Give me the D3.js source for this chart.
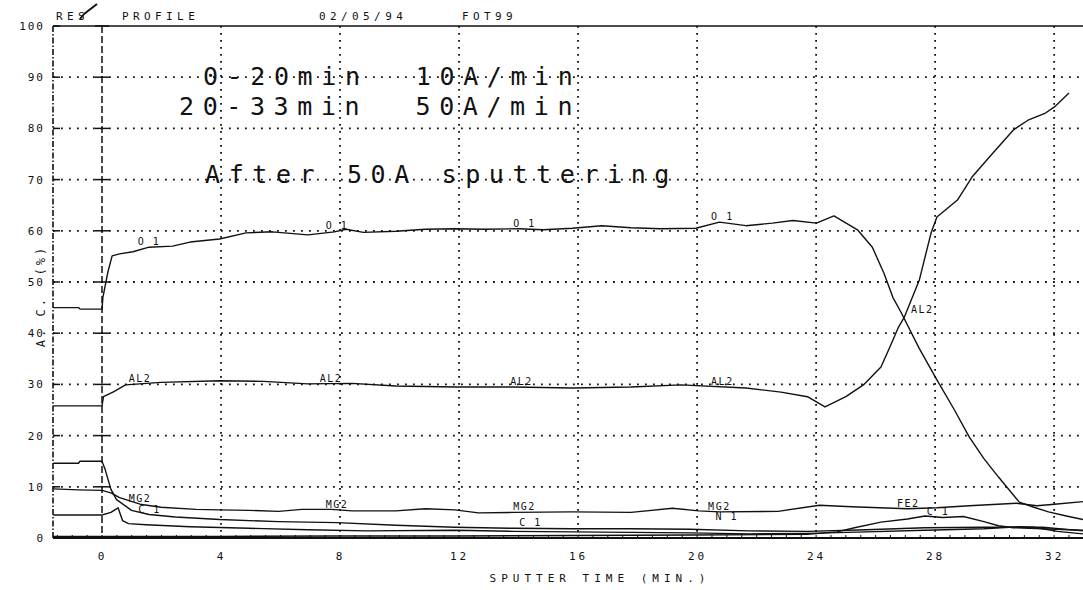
<!DOCTYPE html>
<html>
<head>
<meta charset="utf-8">
<script src="https://cdn.jsdelivr.net/npm/d3@7"></script>
<style>
  body { margin: 0; background: #fff; }
  svg { display: block; }
  text { font-family: "DejaVu Sans Mono", "Liberation Mono", monospace; fill: #111; }
</style>
</head>
<body>
<svg id="chart" width="1083" height="590"></svg>
<script>
// ---- Depth profile data: sputter time (min) vs atomic concentration (%) ----
const xTicks = [0, 4, 8, 12, 16, 20, 24, 28, 32];
const yTicks = [0, 10, 20, 30, 40, 50, 60, 70, 80, 90, 100];

const o1 = [[-1.64,45.0],[-0.79,45.0],[-0.74,44.7],[0,44.7],[0.03,47],[0.2,52],[0.34,55.1],[0.59,55.5],[1.04,55.9],[1.58,56.8],[2.37,57.0],[2.96,57.8],[3.95,58.4],[4.84,59.6],[5.73,59.8],[6.92,59.2],[7.81,59.8],[8.2,60.3],[8.79,59.7],[9.88,59.9],[10.87,60.3],[11.86,60.4],[12.84,60.3],[14.03,60.4],[14.82,60.2],[15.81,60.5],[16.8,61.0],[17.78,60.6],[18.77,60.4],[19.96,60.5],[20.75,61.7],[21.64,61.0],[22.53,61.5],[23.22,62.0],[24.01,61.5],[24.6,62.9],[25.39,60.2],[25.89,56.8],[26.28,51.7],[26.58,47.0],[26.87,43.9],[27.47,37.0],[28.06,30.9],[28.65,25.0],[29.15,19.7],[29.64,15.5],[30.13,11.9],[30.83,7.0],[31.32,6.0],[31.81,5.1],[32.41,4.3],[32.97,3.6]];

const al2 = [[-1.64,25.8],[0,25.8],[0.05,27.6],[0.4,28.6],[0.79,29.9],[1.98,30.4],[3.95,30.7],[5.43,30.6],[6.92,30.1],[8.4,30.2],[9.88,29.7],[11.86,29.5],[13.83,29.5],[15.81,29.3],[17.78,29.5],[19.46,29.9],[21.64,29.3],[22.82,28.5],[23.71,27.6],[24.3,25.6],[25.0,27.6],[25.59,29.9],[26.18,33.4],[26.48,37.3],[26.77,41.2],[26.97,43.2],[27.47,50.4],[27.86,59.5],[28.06,62.7],[28.75,66.0],[29.24,70.5],[29.84,74.5],[30.63,79.7],[31.12,81.6],[31.71,83.0],[32.01,84.2],[32.5,86.9]];

const mg2 = [[-1.64,9.6],[-0.79,9.4],[0,9.3],[0.3,8.8],[0.59,7.9],[1.28,6.6],[1.98,6.0],[3.16,5.6],[3.95,5.5],[4.94,5.4],[5.93,5.2],[6.72,5.6],[7.71,5.6],[8.4,5.3],[9.88,5.3],[10.87,5.7],[11.86,5.5],[12.65,4.9],[13.83,5.0],[15.81,5.1],[17.78,5.0],[19.17,5.8],[20.06,5.3],[20.75,5.1],[22.72,5.2],[24.11,6.4],[25.19,6.1],[27.07,5.7],[28.06,5.9],[29.15,6.3],[30.73,6.8],[31.42,6.3],[32.01,6.6],[32.97,7.1]];

const c1 = [[-1.64,14.6],[-0.79,14.6],[-0.74,15.0],[0,15.0],[0.1,13.5],[0.3,9.5],[0.49,7.5],[0.99,5.4],[1.58,4.6],[2.47,4.1],[3.95,3.6],[5.93,3.2],[7.9,3.0],[9.88,2.5],[11.86,2.1],[13.83,1.9],[15.81,1.8],[17.78,1.8],[19.76,1.7],[21.74,1.4],[23.71,1.3],[25.69,1.6],[27.66,2.0],[29.64,2.1],[31.62,2.1],[32.97,1.4]];

const n1 = [[-1.64,4.5],[0,4.5],[0.3,5.0],[0.54,5.9],[0.69,3.4],[0.89,2.8],[1.48,2.6],[2.96,2.2],[4.94,1.9],[6.92,1.6],[8.89,1.4],[11.86,1.5],[13.83,1.3],[15.81,1.2],[17.78,1.1],[19.76,1.0],[21.74,0.8],[23.71,0.9],[25.69,1.2],[27.66,1.5],[29.64,1.8],[30.83,2.2],[31.32,2.1],[32.11,1.3],[32.97,0.8]];

const fe2 = [[-1.64,0.3],[0,0.3],[3.95,0.3],[7.9,0.4],[11.86,0.4],[15.81,0.5],[19.76,0.6],[23.71,0.7],[24.7,1.2],[25.29,2.0],[26.18,3.1],[27.07,3.7],[27.66,4.3],[28.26,4.0],[28.95,4.2],[29.64,3.2],[30.13,2.4],[30.63,2.0],[31.62,1.8],[32.97,1.5]];

const seriesNames = ["O1", "AL2", "MG2", "C1", "N1", "FE2"];
const seriesData = [o1, al2, mg2, c1, n1, fe2];

// curve labels: the curve each one rides on, its text and the time where it sits
const labelSeries = ["O1","O1","O1","O1","AL2","AL2","AL2","AL2","AL2","MG2","MG2","MG2","MG2","MG2","C1","C1","C1","FE2"];
const labelTexts  = ["O 1","O 1","O 1","O 1","AL2","AL2","AL2","AL2","AL2","MG2","MG2","MG2","MG2","FE2","C 1","C 1","N 1","C 1"];
const labelTimes  = [1.58, 7.9, 14.2, 20.85, 1.28, 7.7, 14.1, 20.85, 27.0, 1.28, 7.9, 14.2, 20.75, 27.1, 1.6, 14.4, 21.0, 28.1];

const headerTexts = ["RES", "PROFILE", "02/05/94", "FOT99"];
const noteLines = ["0-20min  10A/min", "20-33min  50A/min", "After 50A sputtering"];
const xTitle = "SPUTTER TIME (MIN.)";
const yTitle = "A. C.  (%)";

// ---- layout ----
const svg = d3.select("#chart");
const plotLeft = 53, plotRight = 1083, plotTop = 26, plotBottom = 538;
const x = d3.scaleLinear().domain([-1.647, 32.97]).range([plotLeft, plotRight]);
const y = d3.scaleLinear().domain([0, 100]).range([plotBottom, plotTop]);

// grid
const grid = svg.append("g").attr("stroke", "#111").attr("fill", "none");
grid.selectAll("line.h").data(yTicks.filter(d => d > 0 && d < 100)).join("line")
  .attr("x1", plotLeft).attr("x2", plotRight)
  .attr("y1", d => y(d)).attr("y2", d => y(d))
  .attr("stroke-width", 1.8).attr("stroke-dasharray", "1.8,6.2");
grid.selectAll("line.v").data(xTicks.filter(d => d > 0)).join("line")
  .attr("x1", d => x(d)).attr("x2", d => x(d))
  .attr("y1", plotTop).attr("y2", plotBottom)
  .attr("stroke-width", 1.8).attr("stroke-dasharray", "1.8,5.2");
// zero time line
grid.append("line").attr("x1", x(0)).attr("x2", x(0)).attr("y1", plotTop).attr("y2", plotBottom)
  .attr("stroke-width", 1.5).attr("stroke-dasharray", "7,3");
// frame
grid.append("line").attr("x1", plotLeft).attr("x2", plotRight).attr("y1", plotTop).attr("y2", plotTop).attr("stroke-width", 1.6);
grid.append("line").attr("x1", plotLeft).attr("x2", plotLeft).attr("y1", plotTop).attr("y2", plotBottom)
  .attr("stroke-width", 1.6).attr("stroke-dasharray", "6,2,1.5,2");
grid.append("line").attr("x1", plotLeft).attr("x2", plotRight).attr("y1", plotBottom).attr("y2", plotBottom).attr("stroke-width", 1.8);
// tick marks on the left edge and across the zero line
grid.selectAll("line.lt").data(yTicks).join("line")
  .attr("x1", plotLeft).attr("x2", plotLeft + 7).attr("y1", d => y(d)).attr("y2", d => y(d)).attr("stroke-width", 1.5);
grid.selectAll("line.zt").data(yTicks).join("line")
  .attr("x1", x(0) - 7).attr("x2", x(0) + 7).attr("y1", d => y(d)).attr("y2", d => y(d)).attr("stroke-width", 1.5);
// small ticks along the time axis
grid.selectAll("line.bt").data(d3.range(-1.5, 33, 0.5)).join("line")
  .attr("x1", d => x(d)).attr("x2", d => x(d)).attr("y1", plotBottom).attr("y2", plotBottom - 3).attr("stroke-width", 1);

// axis labels via d3 axes
const yAxis = svg.append("g").attr("transform", `translate(${plotLeft - 8},0)`)
  .call(d3.axisLeft(y).tickValues(yTicks).tickSize(0).tickFormat(d3.format("d")));
yAxis.select(".domain").remove();
yAxis.selectAll("text").attr("font-size", 11).attr("letter-spacing", 2)
  .style("font-family", '"DejaVu Sans Mono", monospace').attr("x", 0).attr("fill", "#222");

const xAxis = svg.append("g").attr("transform", `translate(0,${plotBottom + 11})`)
  .call(d3.axisBottom(x).tickValues(xTicks).tickSize(0).tickFormat(d3.format("d")));
xAxis.select(".domain").remove();
xAxis.selectAll("text").attr("font-size", 11).attr("letter-spacing", 3)
  .style("font-family", '"DejaVu Sans Mono", monospace').attr("fill", "#222");

svg.append("text").attr("x", 600).attr("y", 582).attr("text-anchor", "middle")
  .attr("font-size", 11).attr("letter-spacing", 5).text(xTitle);
svg.append("text").attr("transform", "translate(45,296) rotate(-90)").attr("text-anchor", "middle")
  .attr("font-size", 12).attr("letter-spacing", 3).style("white-space", "pre").text(yTitle);

// header line
const headerX = [56, 122, 319, 462];
svg.selectAll("text.hdr").data(headerTexts).join("text")
  .attr("x", (d, i) => headerX[i]).attr("y", 20)
  .attr("font-size", 11).attr("letter-spacing", 4.4).text(d => d);
svg.append("path").attr("d", "M80,19 L84,14 M84,14 L97,4").attr("stroke", "#111")
  .attr("stroke-width", 2).attr("fill", "none");

// annotation block
const noteX = [203, 179, 205];
const noteY = [85, 115, 183];
svg.selectAll("text.note").data(noteLines).join("text")
  .attr("x", (d, i) => noteX[i]).attr("y", (d, i) => noteY[i])
  .attr("xml:space", "preserve").style("white-space", "pre")
  .attr("font-size", 25).attr("letter-spacing", 8.6).text(d => d);

// curves
const line = d3.line().x(d => x(d[0])).y(d => y(d[1]));
svg.append("g").selectAll("path").data(seriesData).join("path")
  .attr("d", line).attr("fill", "none").attr("stroke", "#111").attr("stroke-width", 1.4)
  .attr("stroke-linejoin", "round");

// curve labels, placed on their own curve
function valueAt(data, t) {
  for (let i = 1; i < data.length; i++) {
    if (data[i][0] >= t) {
      const a = data[i - 1], b = data[i];
      const f = (t - a[0]) / (b[0] - a[0] || 1);
      return a[1] + f * (b[1] - a[1]);
    }
  }
  return data[data.length - 1][1];
}
// pixel nudges so that crowded labels sit clear of one another
const labelNudgeX = [0,0,0,0, 0,0,0,0,17, 0,0,0,0,0, 0,0,0,0];
const labelNudgeY = [0,0,0,0, 0,0,0,0,0, 0,0,0,0,0, 0,0,-8,0];
svg.selectAll("text.lbl").data(labelTexts).join("text")
  .attr("x", (d, i) => x(labelTimes[i]) + labelNudgeX[i])
  .attr("y", (d, i) => y(valueAt(seriesData[seriesNames.indexOf(labelSeries[i])], labelTimes[i])) - 2 + labelNudgeY[i])
  .attr("text-anchor", "middle").attr("font-size", 10).attr("letter-spacing", 1.5)
  .style("white-space", "pre").text(d => d);
</script>
</body>
</html>
